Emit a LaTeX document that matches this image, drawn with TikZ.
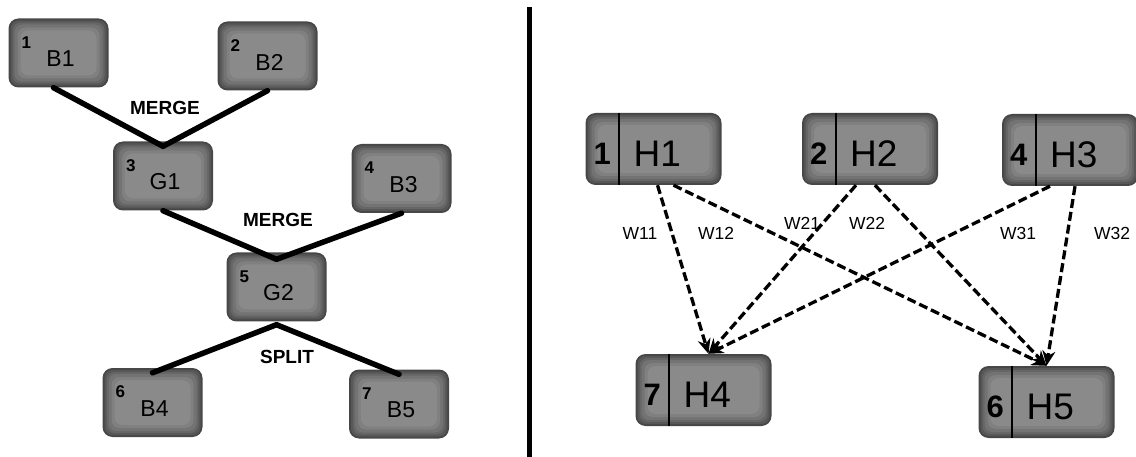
\documentclass[tikz,border=0pt]{standalone}
\usepackage{fontspec}
\setmainfont{Liberation Sans}
\usetikzlibrary{arrows.meta,calc}

% rounded grey block, darker towards the rim
\tikzset{
  shadedblock/.style={rounded corners=10pt, fill=black!72, inner sep=0pt,
    path picture={
      \foreach \d/\c in {2/66,4/60,6/55,9/50,12/46}{
        \fill[black!\c, rounded corners=8pt]
          ($(path picture bounding box.south west)+(\d,-\d)$) rectangle
          ($(path picture bounding box.north east)+(-\d,\d)$);
      }
    }},
  bblock/.style={shadedblock, minimum width=100pt, minimum height=69pt},
  hblock/.style={shadedblock, minimum width=136pt, minimum height=72pt},
  bnum/.style={inner sep=0pt, font=\fontsize{17}{17}\selectfont\bfseries},
  blab/.style={inner sep=0pt, font=\fontsize{23}{23}\selectfont},
  hnum/.style={inner sep=0pt, font=\fontsize{31}{31}\selectfont\bfseries},
  hlab/.style={inner sep=0pt, font=\fontsize{37}{37}\selectfont},
  opname/.style={inner sep=0pt, font=\fontsize{19}{19}\selectfont\bfseries},
  wlab/.style={inner sep=0pt, font=\fontsize{17.5}{17.5}\selectfont},
  link/.style={line width=5.5pt, black, line cap=round},
  hdiv/.style={line width=1.8pt, black},
  flow/.style={line width=3.3pt, black, dash pattern=on 9pt off 4pt,
    -{Stealth[length=15pt, width=13pt]}},
}

% left-hand block: name, x, y, number, label
\newcommand\leftblock[5]{%
  \node[bblock] (#1) at (#2,#3) {};
  \node[bnum] (#1n) at ($(#1.north west)+(18,24)$) {#4};
  \node[blab] (#1t) at ($(#1.center)+(2,6)$) {#5};
}
% right-hand block with a numbered column: name, x, y, number, label
\newcommand\rightblock[5]{%
  \node[hblock] (#1) at (#2,#3) {};
  \node[hnum] (#1n) at ($(#1.west)+(17,5)$) {#4};
  \node[hlab] (#1t) at ($(#1.west)+(72,5)$) {#5};
  \draw[hdiv] ($(#1.north west)+(34,0)$) -- ($(#1.south west)+(34,0)$);
}

\begin{document}
\begin{tikzpicture}[x=1pt, y=-1pt]
\useasboundingbox[fill=white] (0,0) rectangle (1136,457);

% ---- merge / split tree ----
\leftblock{B1}{58.5}{53}{1}{B1}
\leftblock{B2}{267.5}{56}{2}{B2}
\leftblock{G1}{163}{176}{3}{G1}
\leftblock{B3}{401.5}{178.5}{4}{B3}
\leftblock{G2}{276.5}{287}{5}{G2}
\leftblock{B4}{152.5}{402.5}{6}{B4}
\leftblock{B5}{399}{404}{7}{B5}

\draw[link] ([xshift=-5pt]B1.south) -- ([yshift=-5pt]G1.north);
\draw[link] (B2.south) -- ([yshift=-5pt]G1.north);
\draw[link] (G1.south) -- ([yshift=-7pt]G2.north);
\draw[link] (B3.south) -- ([yshift=-7pt]G2.north);
\draw[link] ([yshift=-3pt]G2.south) -- ([yshift=-5pt]B4.north);
\draw[link] ([yshift=-3pt]G2.south) -- ([yshift=-5pt]B5.north);

\node[opname] (m1) at (165,108) {MERGE};
\node[opname] (m2) at (278,220) {MERGE};
\node[opname] (s1) at (287,357) {SPLIT};

% ---- separator ----
\coordinate (sepTop) at (529,7);
\coordinate (sepBot) at (529,457);
\draw[line width=5pt] (sepTop) -- (sepBot);

% ---- weighted mapping ----
\rightblock{H1}{653.5}{149}{1}{H1}
\rightblock{H2}{870}{149}{2}{H2}
\rightblock{H3}{1070}{150}{4}{H3}
\rightblock{H4}{703.5}{390}{7}{H4}
\rightblock{H5}{1046.5}{402}{6}{H5}

\draw[flow] ([xshift=4pt]H1.south) -- ([xshift=5pt]H4.north);
\draw[flow] ([xshift=20pt]H1.south) -- (H5.north);
\draw[flow] ([xshift=-14pt]H2.south) -- ([xshift=5pt]H4.north);
\draw[flow] ([xshift=5pt]H2.south) -- (H5.north);
\draw[flow] ([xshift=-20pt]H3.south) -- ([xshift=5pt]H4.north);
\draw[flow] ([xshift=5pt]H3.south) -- (H5.north);

\node[wlab] (w11) at (640,233) {W11};
\node[wlab] (w12) at (716,233) {W12};
\node[wlab] (w21) at (802,223) {W21};
\node[wlab] (w22) at (867,223) {W22};
\node[wlab] (w31) at (1018,233) {W31};
\node[wlab] (w32) at (1112,233) {W32};
\end{tikzpicture}
\end{document}
